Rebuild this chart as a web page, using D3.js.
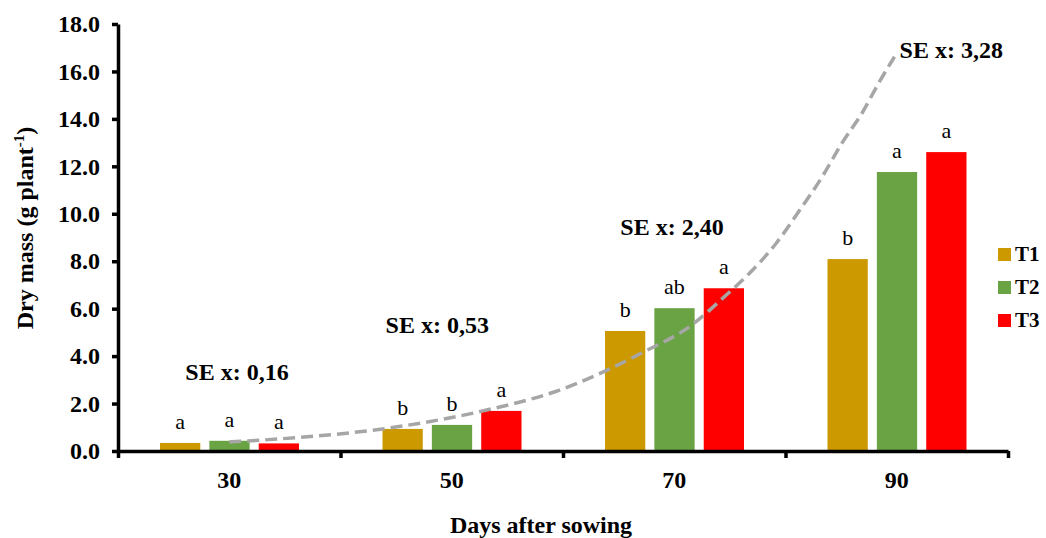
<!DOCTYPE html>
<html>
<head>
<meta charset="utf-8">
<script src="https://cdn.jsdelivr.net/npm/d3@7"></script>
<style>
  body { margin: 0; background: #fff; }
  svg { display: block; }
  svg text { font-family: "Liberation Serif", serif !important; }
  .axis path, .axis line { stroke: #000; stroke-width: 3.5; }
  .axis text { font-size: 24px; font-weight: bold; fill: #000; }
</style>
</head>
<body>
<div id="chart"></div>
<script>
// Dry mass per treatment at each sampling date
const days = ['30', '50', '70', '90'];
const series = ['T1', 'T2', 'T3'];
const t1Values = [0.34, 0.93, 5.06, 8.09];
const t2Values = [0.43, 1.10, 6.02, 11.76];
const t3Values = [0.32, 1.69, 6.86, 12.60];
const t1Letters = ['a', 'b', 'b', 'b'];
const t2Letters = ['a', 'b', 'ab', 'a'];
const t3Letters = ['a', 'a', 'a', 'a'];
const colors = ['#CC9900', '#6AA343', '#FF0000'];

// dashed trend curve (day, g plant-1)
const trendDays = [30, 34.5, 44.4, 52.8, 59.7, 67.1, 71.6, 74.5, 76.8, 79.2, 81.3, 83.3, 85.1, 86.9, 88.4, 89.8];
const trendValues = [0.38, 0.51, 0.97, 1.69, 2.57, 4.14, 5.32, 6.50, 7.51, 8.78, 10.17, 11.56, 13.0, 14.26, 15.53, 16.62];

// standard error notes
const seText = ['SE x: 0,16', 'SE x: 0,53', 'SE x: 2,40', 'SE x: 3,28'];
const seDays = [30.7, 48.7, 69.8, 94.9];
const seValues = [3.0, 4.99, 9.11, 16.57];

const yTicks = [0, 2, 4, 6, 8, 10, 12, 14, 16, 18];

const W = 1046, H = 538;
const plotLeft = 118, plotRight = 1008, plotTop = 24, plotBottom = 451;

const svg = d3.select('#chart').append('svg')
  .attr('width', W).attr('height', H)
  .attr('font-family', '"Liberation Serif", serif');

const x = d3.scaleBand().domain(days).range([plotLeft, plotRight]);
const xDay = d3.scaleLinear().domain([20, 100]).range([plotLeft, plotRight]);
const inner = d3.scaleBand().domain(series).range([42, 181]).paddingInner(0.184);
const y = d3.scaleLinear().domain([0, 18]).range([plotBottom, plotTop]);

const rows = days.map((d, i) => ({
  day: d,
  bars: [
    { key: 'T1', value: t1Values[i], letter: t1Letters[i] },
    { key: 'T2', value: t2Values[i], letter: t2Letters[i] },
    { key: 'T3', value: t3Values[i], letter: t3Letters[i] }
  ]
}));

// bars + significance letters
const groups = svg.append('g').selectAll('g').data(rows).join('g')
  .attr('transform', d => `translate(${x(d.day)},0)`);

groups.selectAll('rect').data(d => d.bars).join('rect')
  .attr('x', d => inner(d.key))
  .attr('y', d => y(d.value))
  .attr('width', inner.bandwidth())
  .attr('height', d => y(0) - y(d.value))
  .attr('fill', (d, i) => colors[i]);

groups.selectAll('text').data(d => d.bars).join('text')
  .attr('x', d => inner(d.key) + inner.bandwidth() / 2)
  .attr('y', d => y(d.value) - 14)
  .attr('text-anchor', 'middle')
  .attr('font-size', 22)
  .text(d => d.letter);

// trend line
const line = d3.line()
  .x((d, i) => xDay(trendDays[i]))
  .y(d => y(d))
  .curve(d3.curveMonotoneX);

svg.append('path')
  .datum(trendValues)
  .attr('d', line)
  .attr('fill', 'none')
  .attr('stroke', '#A6A6A6')
  .attr('stroke-width', 3.5)
  .attr('stroke-dasharray', '12,6');

// SE notes
svg.append('g').selectAll('text').data(seText).join('text')
  .attr('x', (d, i) => xDay(seDays[i]))
  .attr('y', (d, i) => y(seValues[i]))
  .attr('text-anchor', 'middle')
  .attr('font-size', 24)
  .attr('font-weight', 'bold')
  .text(d => d);

// axes
svg.append('g').attr('class', 'axis')
  .attr('transform', `translate(0,${plotBottom})`)
  .call(d3.axisBottom(xDay).tickValues([20, 40, 60, 80, 100]).tickFormat('').tickSize(7).tickSizeOuter(0));

svg.append('g').attr('class', 'axis')
  .attr('transform', `translate(0,${plotBottom})`)
  .call(d3.axisBottom(x).tickSize(0).tickPadding(20))
  .call(g => g.select('.domain').remove());

svg.append('g').attr('class', 'axis')
  .attr('transform', `translate(${plotLeft},0)`)
  .call(d3.axisLeft(y).tickValues(yTicks).tickFormat(d3.format('.1f')).tickSize(6).tickPadding(12).tickSizeOuter(0));

svg.selectAll('.axis').attr('font-family', null);

// axis titles
const yTitle = svg.append('text')
  .attr('transform', `translate(33,228) rotate(-90)`)
  .attr('text-anchor', 'middle')
  .attr('font-size', 24)
  .attr('font-weight', 'bold');
yTitle.append('tspan').text('Dry mass (g plant');
yTitle.append('tspan').attr('font-size', 15).attr('dy', -9).text('-1');
yTitle.append('tspan').attr('dy', 9).text(')');

svg.append('text')
  .attr('x', 541).attr('y', 533)
  .attr('text-anchor', 'middle')
  .attr('font-size', 24)
  .attr('font-weight', 'bold')
  .text('Days after sowing');

// legend
const legend = svg.append('g').selectAll('g').data(series).join('g')
  .attr('transform', (d, i) => `translate(998,${248 + i * 33})`);
legend.append('rect')
  .attr('width', 13).attr('height', 13)
  .attr('fill', (d, i) => colors[i]);
legend.append('text')
  .attr('x', 17).attr('y', 13)
  .attr('font-size', 21)
  .attr('font-weight', 'bold')
  .text(d => d);
</script>
</body>
</html>
